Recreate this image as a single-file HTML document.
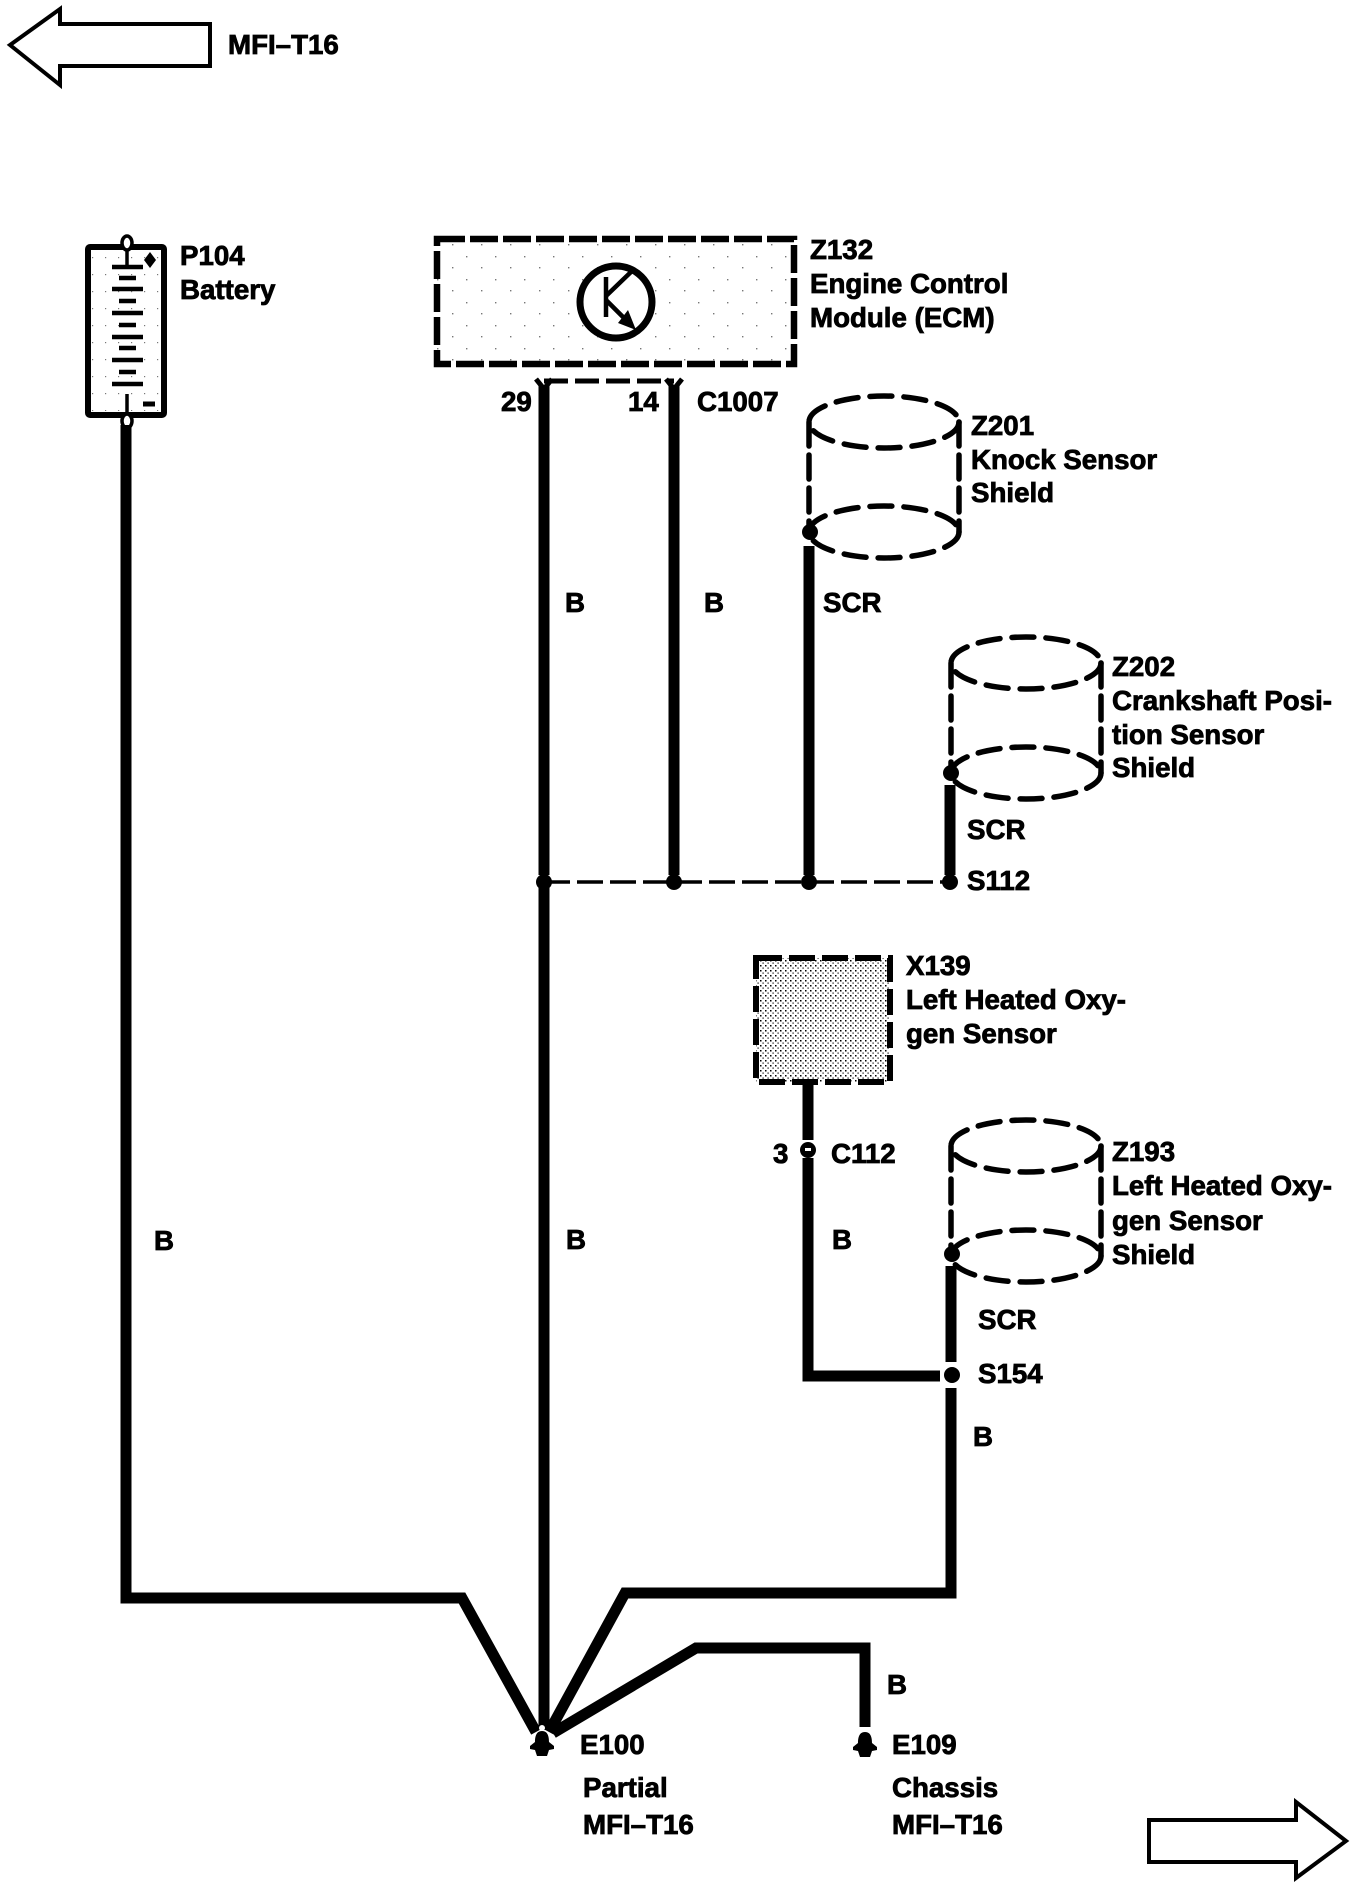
<!DOCTYPE html>
<html><head><meta charset="utf-8"><style>
html,body{margin:0;padding:0;background:#fff}
svg{display:block}
text{font-family:"Liberation Sans",sans-serif;font-weight:bold;font-size:27.7px;fill:#000;stroke:#000;stroke-width:.8}
.w{fill:none;stroke:#000;stroke-width:11;stroke-linejoin:miter}
.d{fill:none;stroke:#000;stroke-width:5.5;stroke-linecap:round}
</style></head><body>
<svg width="1360" height="1886" viewBox="0 0 1360 1886" xmlns="http://www.w3.org/2000/svg">
<defs>
<pattern id="dense" width="5" height="5" patternUnits="userSpaceOnUse"><rect width="5" height="5" fill="#fff"/><rect x="0" y="0" width="1.5" height="1.5" fill="#000"/><rect x="2.5" y="2.5" width="1.2" height="1.2" fill="#000"/></pattern>
<pattern id="sparse" width="29" height="23" patternUnits="userSpaceOnUse"><rect x="2" y="3" width="1.4" height="1.4" fill="#777"/><rect x="17" y="14" width="1.4" height="1.4" fill="#777"/></pattern>
<pattern id="bat" width="13" height="17" patternUnits="userSpaceOnUse"><rect x="1" y="2" width="1.2" height="1.2" fill="#777"/></pattern>
<g id="cyl">
<ellipse cx="0" cy="0" rx="75" ry="26" class="d" stroke-dasharray="22 12"/>
<ellipse cx="0" cy="110" rx="75" ry="26" class="d" stroke-dasharray="22 12"/>
<path d="M-75 0V110M75 0V110" class="d" stroke-dasharray="24 9"/>
</g>
<path id="gnd" d="M0-13C6-13 7-7 7-2L12 2V5L7 6 5 12H-5L-7 6-12 5V2L-7-2C-7-7-6-13 0-13Z" fill="#000"/>
</defs>
<rect width="1360" height="1886" fill="#fff"/>

<!-- Arrows -->
<path d="M10 45L60 9V24H210V66H60V85Z" fill="#fff" stroke="#000" stroke-width="4"/>
<text x="228" y="54">MFI–T16</text>
<path d="M1149 1820H1296V1802L1346 1841 1296 1878V1862H1149Z" fill="#fff" stroke="#000" stroke-width="4"/>

<!-- Battery -->
<rect x="88" y="247" width="76" height="168" fill="#fff" stroke="#000" stroke-width="6" rx="2"/>
<rect x="92" y="251" width="68" height="160" fill="url(#bat)"/>
<ellipse cx="127" cy="243" rx="5" ry="7" fill="#fff" stroke="#000" stroke-width="3.5"/>
<ellipse cx="127" cy="421" rx="5" ry="7" fill="#fff" stroke="#000" stroke-width="3.5"/>
<path d="M127 250V266M127 394V414" stroke="#000" stroke-width="3.5"/>
<g stroke="#000" stroke-width="4.5">
<path d="M112 267H143M112 289H143M112 313H143M112 337H143M112 360H143M112 384H143"/>
<path d="M119 278H136M119 301H136M119 325H136M119 348H136M119 372H136"/>
<path d="M143 404H155" stroke-width="5"/>
</g>
<path d="M150 252L156 260 150 268 144 260Z" fill="#000"/>
<text x="180" y="265">P104</text>
<text x="180" y="299">Battery</text>

<!-- ECM -->
<rect x="437" y="239" width="357" height="125" fill="url(#sparse)" stroke="#000" stroke-width="6.5" stroke-dasharray="28 5"/>
<ellipse cx="616" cy="302" rx="36" ry="36" fill="#fff" stroke="#000" stroke-width="7"/>
<path d="M606 277V317M606 296L632 271M606 300L630 324" stroke="#000" stroke-width="4.5" fill="none"/>
<path d="M636 330L618 323 628 310Z" fill="#000"/>
<text x="810" y="259">Z132</text>
<text x="810" y="293">Engine Control</text>
<text x="810" y="327">Module (ECM)</text>

<!-- C1007 -->
<path d="M544 381H674" stroke="#000" stroke-width="5" stroke-dasharray="24 7" fill="none"/>
<path d="M536 379L544 389 552 379M666 379L674 389 682 379" stroke="#000" stroke-width="5" fill="none"/>
<text x="501" y="411">29</text>
<text x="628" y="411">14</text>
<text x="697" y="411">C1007</text>

<!-- Main wires -->
<path class="w" d="M544 385V875M544 888V1730"/>
<path class="w" d="M674 385V875"/>
<path class="w" d="M809 546V875"/>
<path class="w" d="M950 785V875"/>
<path class="w" d="M126 425V1598H462L536 1732"/>
<path class="w" d="M951 1388V1593H625L549 1732"/>
<path class="w" d="M865 1727V1648H696L553 1733"/>
<path class="w" d="M808 1083V1140M808 1158V1376H940"/>
<path class="w" d="M951 1266V1362"/>

<!-- S112 -->
<path d="M544 882H950" stroke="#000" stroke-width="3.5" stroke-dasharray="26 7" fill="none"/>
<circle cx="544" cy="882" r="8" fill="#000"/><circle cx="674" cy="882" r="8" fill="#000"/><circle cx="809" cy="882" r="8" fill="#000"/><circle cx="950" cy="882" r="8" fill="#000"/>
<text x="967" y="890">S112</text>
<text x="967" y="839">SCR</text>

<text x="565" y="612">B</text>
<text x="704" y="612">B</text>
<text x="823" y="612">SCR</text>
<text x="154" y="1250">B</text>
<text x="566" y="1249">B</text>

<!-- Cylinders -->
<use href="#cyl" x="884" y="422"/>
<circle cx="810" cy="532" r="8" fill="#000"/>
<text x="971" y="435">Z201</text>
<text x="971" y="469">Knock Sensor</text>
<text x="971" y="502">Shield</text>

<use href="#cyl" x="1026" y="663"/>
<circle cx="951" cy="773" r="8" fill="#000"/>
<text x="1112" y="676">Z202</text>
<text x="1112" y="710">Crankshaft Posi-</text>
<text x="1112" y="744">tion Sensor</text>
<text x="1112" y="777">Shield</text>

<use href="#cyl" x="1026" y="1146"/>
<circle cx="952" cy="1254" r="8" fill="#000"/>
<text x="1112" y="1161">Z193</text>
<text x="1112" y="1195">Left Heated Oxy-</text>
<text x="1112" y="1230">gen Sensor</text>
<text x="1112" y="1264">Shield</text>
<text x="978" y="1329">SCR</text>
<circle cx="952" cy="1375" r="8" fill="#000"/>
<text x="978" y="1383">S154</text>
<text x="973" y="1446">B</text>

<!-- X139 -->
<rect x="756" y="958" width="134" height="124" fill="url(#dense)" stroke="#000" stroke-width="6" stroke-dasharray="26 7"/>
<text x="906" y="975">X139</text>
<text x="906" y="1009">Left Heated Oxy-</text>
<text x="906" y="1043">gen Sensor</text>
<circle cx="808" cy="1150" r="8" fill="#000"/>
<rect x="805" y="1148" width="6" height="3" fill="#fff"/>
<text x="773" y="1163">3</text>
<text x="831" y="1163">C112</text>
<text x="832" y="1249">B</text>

<!-- Grounds -->
<use href="#gnd" x="542" y="1744"/>
<use href="#gnd" x="865" y="1745"/>
<circle cx="542" cy="1728" r="3" fill="#fff"/>
<text x="580" y="1754">E100</text>
<text x="583" y="1797">Partial</text>
<text x="583" y="1834">MFI–T16</text>
<text x="892" y="1754">E109</text>
<text x="892" y="1797">Chassis</text>
<text x="892" y="1834">MFI–T16</text>
<text x="887" y="1694">B</text>
</svg>
</body></html>
